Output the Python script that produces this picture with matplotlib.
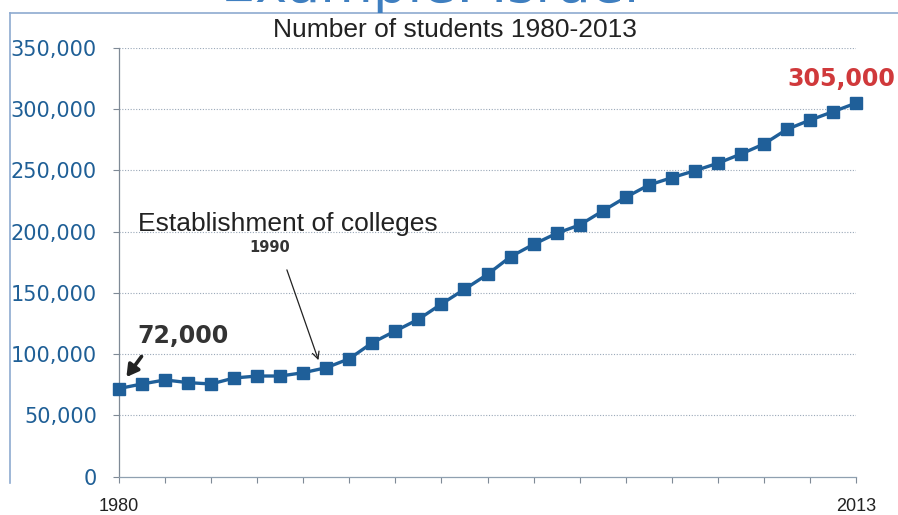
import matplotlib
matplotlib.use("Agg")
import matplotlib.pyplot as plt
from matplotlib.lines import Line2D

W, H = 898, 515
DPI = 100

# ---- data ----
points = list(range(33))  # consecutive yearly observations
students = [72000, 75700, 79000, 76800, 75700, 80600, 82200, 82200, 84900, 89000,
            96300, 109400, 119000, 128500, 141000, 153000, 165200, 179600, 189700, 198700,
            205500, 216900, 228100, 238100, 244100, 249800, 255900, 263400, 271600, 283600,
            291100, 298000, 305000]
x_tick_pos = [0, 32]
x_tick_labels = ["1980", "2013"]
y_ticks = [0, 50000, 100000, 150000, 200000, 250000, 300000, 350000]
y_tick_labels = ["0", "50,000", "100,000", "150,000", "200,000", "250,000", "300,000", "350,000"]
title = "Number of students 1980-2013"
slide_title = "Example: Israel"
start_label = "72,000"
end_label = "305,000"
event_label = "Establishment of colleges"
event_year = "1990"
event_index = 10


def px(x, y):
    return x / W, 1 - y / H


fig = plt.figure(figsize=(W / DPI, H / DPI), dpi=DPI)
fig.patch.set_facecolor("white")

# slide frame
frame_c = "#8eaad0"
fig.add_artist(Line2D([10 / W, 1.0], [1 - 12.5 / H, 1 - 12.5 / H], color=frame_c, lw=1.2, transform=fig.transFigure))
fig.add_artist(Line2D([10 / W, 10 / W], [1 - 12.5 / H, 1 - 483 / H], color=frame_c, lw=1.2, transform=fig.transFigure))

# cropped slide title (only its lower edge is visible, as in the reference)
fig.text(*px(430, 2), slide_title, fontsize=39, color="#3f7fc0", ha="center", va="baseline",
         family="DejaVu Sans")

l, r, t, b = 119, 856, 48, 476.7
ax = fig.add_axes([l / W, 1 - b / H, (r - l) / W, (b - t) / H])
ax.set_xlim(0, 32)
ax.set_ylim(0, 350000)

line_c = "#1f5f99"
ax.plot(points, students, color=line_c, lw=2.4, marker="s", markersize=9,
        markerfacecolor=line_c, markeredgecolor=line_c, clip_on=False, zorder=5)

# grid
for v in y_ticks[1:]:
    ax.axhline(v, color="#9aa8b8", lw=0.8, ls=(0, (1, 1.5)), zorder=1)

for s in ["top", "right"]:
    ax.spines[s].set_visible(False)
ax.spines["left"].set_color("#7f8a96")
ax.spines["bottom"].set_color("#8fa0b0")
ax.spines["left"].set_linewidth(0.9)
ax.spines["bottom"].set_linewidth(0.9)

ax.set_yticks(y_ticks)
ax.set_yticklabels(y_tick_labels, fontsize=15, color="#1f5f96", family="DejaVu Sans")
ax.tick_params(axis="y", direction="out", length=4, width=0.8, color="#7f8a96", pad=12)

ax.set_xticks(x_tick_pos)
ax.set_xticklabels(x_tick_labels, fontsize=13, color="#222222", family="Liberation Sans")
ax.set_xticks(list(range(0, 33, 2)), minor=True)
ax.tick_params(axis="x", which="both", direction="out", length=4, width=0.8, color="#7f8a96")
ax.tick_params(axis="x", which="major", pad=11)

# title
fig.text(*px(455, 30), title, fontsize=19, color="#222222", ha="center", va="center",
         family="Liberation Sans")

# annotations
ax.annotate("", xy=(0.25, 79500), xytext=(1.05, 100000),
            arrowprops=dict(arrowstyle="-|>,head_length=0.7,head_width=0.4", color="#222222", lw=2.6))
ax.text(0.78, students[0] + 43000, start_label, fontsize=17, fontweight="bold", color="#333333",
        ha="left", va="center", family="DejaVu Sans")

ax.text(31.35, 324700, end_label, fontsize=17, fontweight="bold", color="#d0393b",
        ha="center", va="center", family="DejaVu Sans")

fig.text(*px(288, 224), event_label, fontsize=19, color="#222222", ha="center", va="center",
         family="Liberation Sans")
fig.text(*px(270, 248), event_year, fontsize=10.5, fontweight="bold", color="#333333",
         ha="center", va="center", family="DejaVu Sans")
ax.annotate("", xy=(event_index - 1.3, students[event_index - 1] + 4000),
            xytext=(event_index - 2.75, 171000),
            arrowprops=dict(arrowstyle="->,head_length=0.5,head_width=0.25", color="#222222", lw=0.9))

fig.savefig("out.png", dpi=DPI, facecolor="white")
